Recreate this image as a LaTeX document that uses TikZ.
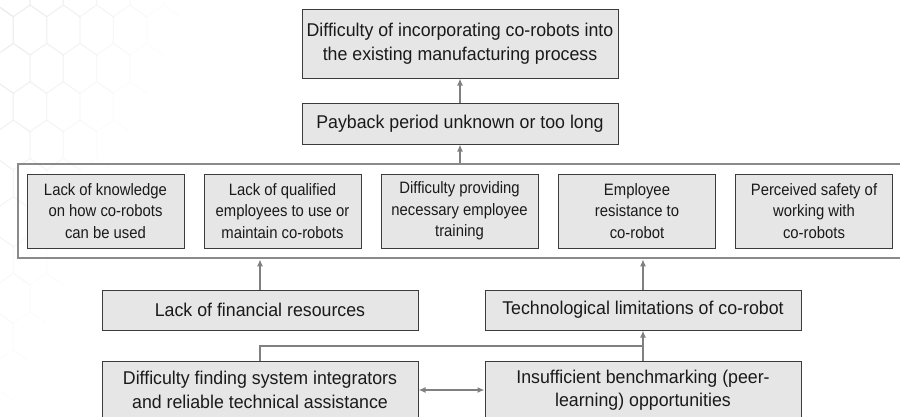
\documentclass[tikz,border=0pt]{standalone}
\usepackage{fontspec}
\setmainfont{Liberation Sans}
\newfontfamily\bigf[FakeStretch=0.96]{Liberation Sans}
\newfontfamily\smallf[FakeStretch=0.9]{Liberation Sans}
\usetikzlibrary{arrows.meta}
\definecolor{boxfill}{HTML}{E6E6E6}
\definecolor{boxline}{HTML}{3C3C3C}
\definecolor{arrcol}{HTML}{808080}
\definecolor{contcol}{HTML}{8A8A8A}
\definecolor{txt}{HTML}{1A1A1A}
\definecolor{hexcol}{HTML}{EAEAEA}
\tikzset{
  bigbox/.style={draw=boxline, fill=boxfill, line width=1pt, inner sep=0pt,
    minimum width=316, minimum height=40, align=center, text=txt,
    font=\bigf\fontsize{18.5}{23.5}\selectfont},
  smallbox/.style={draw=boxline, fill=boxfill, line width=1pt, inner sep=0pt,
    minimum width=157, minimum height=74, align=center, text=txt,
    font=\smallf\fontsize{16.5}{21.5}\selectfont},
  contbox/.style={draw=contcol, line width=2.6pt,
    inner sep=0pt, minimum width=887, minimum height=94},
  arr/.style={draw=arrcol, line width=2pt, -{Latex[length=7pt,width=6pt]}},
  dblarr/.style={draw=arrcol, line width=2pt, {Latex[length=7pt,width=6pt]}-{Latex[length=7pt,width=6pt]}},
  conn/.style={draw=arrcol, line width=2pt},
  hexline/.style={draw=hexcol, line width=1.2pt, line cap=round}
}
\begin{document}
\begin{tikzpicture}[x=1pt, y=-1pt]
\useasboundingbox (0,0) rectangle (900,416);
\clip (0,0) rectangle (900,416);
% faint hexagon background
\foreach \r in {-1,...,10} {
  \foreach \k in {-1,...,7} {
    \pgfmathsetmacro{\hx}{13.33 + 33.33*\k + mod(\r+2,2)*16.67}
    \pgfmathsetmacro{\yt}{16.67 + 38.33*\r}
    \pgfmathsetmacro{\yb}{\yt + 26.67}
    \pgfmathsetmacro{\op}{max(0, min(1, 0.95 - (\hx + 0.45*\yb)/210))}
    \draw[hexline, opacity=\op] (\hx,\yt) -- (\hx,\yb)
      (\hx-16.67,\yb+11.67) -- (\hx,\yb) -- (\hx+16.67,\yb+11.67);
  }
}
% container
\node[contbox] (cont) at (461.5,211) {};
% top boxes
\node[bigbox, minimum height=69] (top) at (460,43.5)
  {Difficulty of incorporating co-robots into\\the existing manufacturing process};
\node[bigbox, minimum height=41] (pay) at (460,123.5) {Payback period unknown or too long};
% inner boxes
\node[smallbox] (b1) at (105.5,211) {Lack of knowledge\\on how co-robots\\can be used};
\node[smallbox] (b2) at (282.5,211) {Lack of qualified\\employees to use or\\maintain co-robots};
\node[smallbox] (b3) at (459.5,211) {Difficulty providing\\necessary employee\\training};
\node[smallbox] (b4) at (637,211) {Employee\\resistance to\\co-robot};
\node[smallbox] (b5) at (814,211) {Perceived safety of\\working with\\co-robots};
% middle boxes
\node[bigbox] (fin) at (260,310) {Lack of financial resources};
\node[bigbox] (tech) at (643,310) {Technological limitations of co-robot};
% bottom boxes
\node[bigbox, minimum height=58] (bl) at (260,390)
  {Difficulty finding system integrators\\and reliable technical assistance};
\node[bigbox, minimum height=58] (br) at (643,390)
  {Insufficient benchmarking (peer-\\learning) opportunities};
% connectors
\draw[arr] (pay.north) -- (top.south);
\draw[arr] (cont.north -| pay.south) -- (pay.south);
\draw[arr] (fin.north) -- (cont.south -| fin.north);
\draw[arr] (tech.north) -- (cont.south -| tech.north);
\coordinate (j) at (643,346);
\draw[conn] (bl.north) |- (j);
\draw[arr] (br.north) -- (tech.south);
\draw[dblarr] (bl.east) -- (br.west);
\end{tikzpicture}
\end{document}
